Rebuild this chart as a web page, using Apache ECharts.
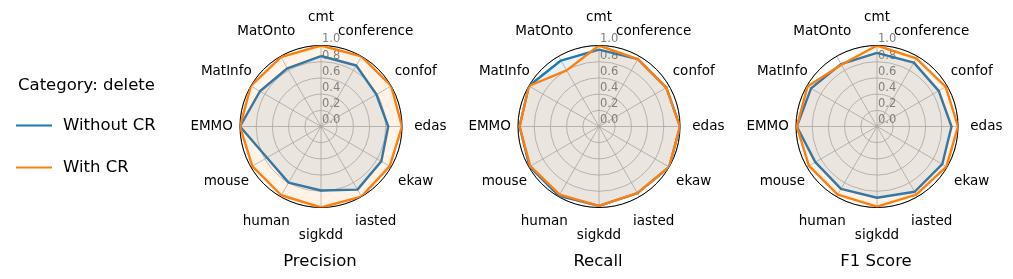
<!DOCTYPE html>
<html><head><meta charset="utf-8">
<script src="https://cdn.jsdelivr.net/npm/echarts@6/dist/echarts.min.js"></script>
<style>html,body{margin:0;padding:0;background:#fff}#c{width:1013px;height:279px}</style>
</head><body><div id="c"></div>
<script>
const categories = ['cmt','conference','confof','edas','ekaw','iasted','sigkdd','human','mouse','EMMO','MatInfo','MatOnto'];
const radialTicks = ['0.0','0.2','0.4','0.6','0.8','1.0'];
const seriesNames = ['Without CR','With CR'];
const panelTitles = ['Precision','Recall','F1 Score'];
const legendTitle = 'Category: delete';

const precisionWithout = [0.87, 0.87, 0.79, 0.83, 0.86, 0.90, 0.79, 0.80, 0.77, 1.00, 0.87, 0.83];
const precisionWith    = [1.00, 1.00, 1.00, 1.00, 0.98, 1.00, 1.00, 0.98, 0.98, 1.00, 1.00, 0.99];
const recallWithout    = [0.95, 0.96, 0.96, 1.00, 1.00, 0.95, 0.98, 0.99, 0.99, 0.98, 1.00, 0.94];
const recallWith       = [1.00, 0.96, 0.96, 1.00, 1.00, 0.95, 0.98, 0.97, 0.98, 0.98, 1.00, 0.80];
const f1Without        = [0.91, 0.91, 0.88, 0.92, 0.93, 0.93, 0.88, 0.89, 0.88, 0.99, 0.94, 0.89];
const f1With           = [1.00, 0.97, 0.98, 1.00, 0.99, 0.97, 0.99, 0.97, 0.97, 0.99, 0.99, 0.88];

const panels = [
  [precisionWithout, precisionWith],
  [recallWithout, recallWith],
  [f1Without, f1With]
];

// layout constants
const CX = [321, 599, 877];
const CY = 126.5;
const R = 81;
const LABEL_R = 1.35;
const COLORS = ['#1f77b4', '#ff7f0e'];
const FONT = 'DejaVu Sans';
const STEP = 360 / categories.length;

function closed(vals) {
  const pts = vals.map((v, k) => [v, k * STEP]);
  pts.push([vals[0], 360]);
  return pts;
}

const polar = [], angleAxis = [], radiusAxis = [], series = [];
panels.forEach((pair, i) => {
  polar.push({ center: [CX[i], CY], radius: R });
  angleAxis.push({
    polarIndex: i, type: 'value', min: 0, max: 360, interval: STEP,
    startAngle: 90, clockwise: true,
    axisLine: { show: true, lineStyle: { color: '#000', width: 1 } },
    axisTick: { show: false }, axisLabel: { show: false },
    splitLine: { show: true, lineStyle: { color: '#b0b0b0', width: 0.8 } }
  });
  radiusAxis.push({
    polarIndex: i, type: 'value', min: 0, max: 1, interval: 0.2,
    axisLine: { show: false }, axisTick: { show: false },
    splitLine: { show: true, lineStyle: { color: '#b0b0b0', width: 0.8 } },
    axisLabel: {
      show: true, showMinLabel: true, showMaxLabel: true,
      formatter: (v) => radialTicks[Math.round(v / 0.2)],
      color: '#808080', fontSize: 11.5, fontFamily: FONT,
      align: 'left', verticalAlign: 'bottom', margin: -1
    }
  });
  pair.forEach((vals, j) => {
    series.push({
      type: 'line', name: seriesNames[j], coordinateSystem: 'polar', polarIndex: i,
      data: closed(vals), showSymbol: false, symbol: 'none', silent: true, z: 2 + j,
      lineStyle: { color: COLORS[j], width: 2.4, join: 'round' },
      itemStyle: { color: COLORS[j] },
      areaStyle: { color: COLORS[j], opacity: 0.1 }
    });
  });
  series.push({
    type: 'scatter', coordinateSystem: 'polar', polarIndex: i, silent: true, clip: false,
    data: categories.map((c, k) => ({ value: [LABEL_R, k * STEP], name: c })),
    symbol: 'circle', symbolSize: 0, itemStyle: { color: '#000', opacity: 1 },
    label: {
      show: true, position: 'inside', formatter: '{b}', color: '#000', fontSize: 13.5,
      fontFamily: FONT, textBorderWidth: 0, textBorderColor: 'transparent'
    },
    z: 5
  });
});

const title = [{
  text: legendTitle, left: 18, top: 77, padding: 0,
  textStyle: { fontSize: 16.5, fontWeight: 'normal', color: '#000', fontFamily: FONT }
}];
panelTitles.forEach((t, i) => title.push({
  text: t, left: CX[i] - 1, textAlign: 'center', top: 253, padding: 0,
  textStyle: { fontSize: 16.5, fontWeight: 'normal', color: '#000', fontFamily: FONT }
}));

const chart = echarts.init(document.getElementById('c'), null, { renderer: 'canvas' });
chart.setOption({
  animation: false,
  backgroundColor: '#fff',
  textStyle: { fontFamily: FONT },
  title,
  legend: {
    data: seriesNames, orient: 'vertical', left: 16, top: 117, padding: 0,
    icon: 'rect', itemWidth: 36, itemHeight: 2, itemGap: 25,
    textStyle: { fontSize: 16.5, color: '#000', fontFamily: FONT, padding: [0, 0, 0, 6] }
  },
  polar, angleAxis, radiusAxis, series
});
</script>
</body></html>
